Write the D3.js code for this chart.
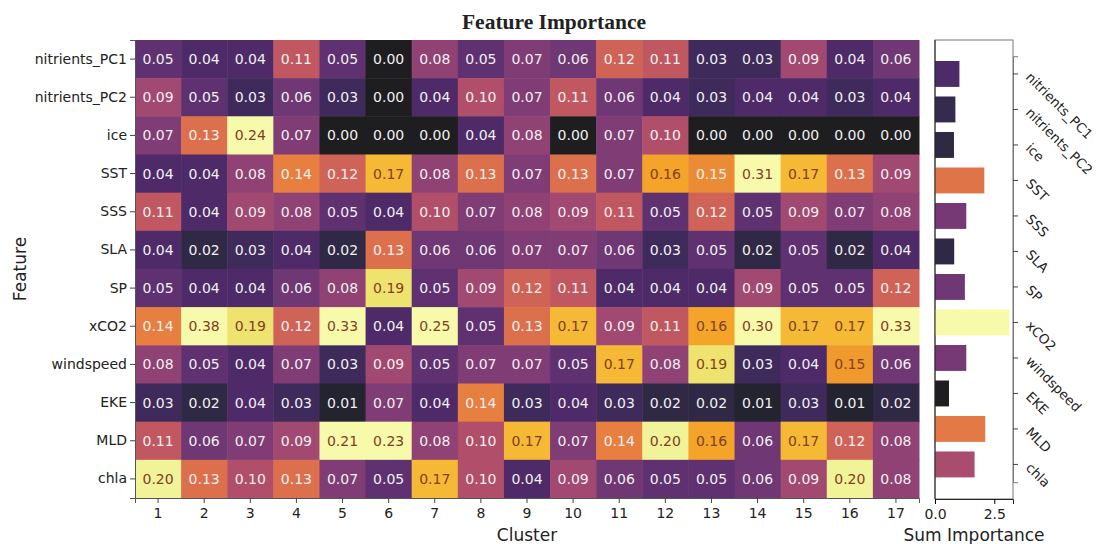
<!DOCTYPE html>
<html>
<head>
<meta charset="utf-8">
<script src="https://cdn.jsdelivr.net/npm/d3@7"></script>
<style>
  body { margin: 0; background: #fff; }
  svg { display: block; font-family: "DejaVu Sans", sans-serif; }
  svg text { font-family: "DejaVu Sans", sans-serif; }
</style>
</head>
<body>
<div id="chart"></div>
<script>
// ################## data ##################
var features = ['nitrients_PC1', 'nitrients_PC2', 'ice', 'SST', 'SSS', 'SLA', 'SP', 'xCO2', 'windspeed', 'EKE', 'MLD', 'chla'];
var clusters = ['1', '2', '3', '4', '5', '6', '7', '8', '9', '10', '11', '12', '13', '14', '15', '16', '17'];

var nitrientsPC1 = [0.05, 0.04, 0.04, 0.11, 0.05, 0.00, 0.08, 0.05, 0.07, 0.06, 0.12, 0.11, 0.03, 0.03, 0.09, 0.04, 0.06];
var nitrientsPC2 = [0.09, 0.05, 0.03, 0.06, 0.03, 0.00, 0.04, 0.10, 0.07, 0.11, 0.06, 0.04, 0.03, 0.04, 0.04, 0.03, 0.04];
var ice = [0.07, 0.13, 0.24, 0.07, 0.00, 0.00, 0.00, 0.04, 0.08, 0.00, 0.07, 0.10, 0.00, 0.00, 0.00, 0.00, 0.00];
var sst = [0.04, 0.04, 0.08, 0.14, 0.12, 0.17, 0.08, 0.13, 0.07, 0.13, 0.07, 0.16, 0.146, 0.31, 0.17, 0.13, 0.09];
var sss = [0.11, 0.04, 0.09, 0.08, 0.05, 0.04, 0.10, 0.07, 0.08, 0.09, 0.11, 0.05, 0.12, 0.05, 0.09, 0.07, 0.08];
var sla = [0.04, 0.02, 0.03, 0.04, 0.02, 0.13, 0.06, 0.06, 0.07, 0.07, 0.06, 0.03, 0.05, 0.02, 0.05, 0.02, 0.04];
var sp = [0.05, 0.04, 0.04, 0.06, 0.08, 0.19, 0.05, 0.09, 0.12, 0.11, 0.04, 0.04, 0.04, 0.09, 0.05, 0.05, 0.12];
var xco2 = [0.14, 0.38, 0.19, 0.12, 0.33, 0.04, 0.25, 0.05, 0.13, 0.17, 0.09, 0.11, 0.16, 0.30, 0.17, 0.17, 0.33];
var windspeed = [0.08, 0.05, 0.04, 0.07, 0.03, 0.09, 0.05, 0.07, 0.07, 0.05, 0.17, 0.08, 0.19, 0.03, 0.04, 0.154, 0.06];
var eke = [0.03, 0.02, 0.04, 0.03, 0.01, 0.07, 0.04, 0.14, 0.03, 0.04, 0.03, 0.02, 0.02, 0.01, 0.03, 0.01, 0.02];
var mld = [0.11, 0.06, 0.07, 0.09, 0.21, 0.23, 0.08, 0.10, 0.17, 0.07, 0.14, 0.20, 0.16, 0.06, 0.17, 0.12, 0.08];
var chla = [0.20, 0.13, 0.10, 0.13, 0.07, 0.05, 0.17, 0.10, 0.04, 0.09, 0.06, 0.05, 0.05, 0.06, 0.09, 0.20, 0.08];

// summed importance per feature (right panel)
var sumImportance = [1.03, 0.86, 0.80, 2.08, 1.32, 0.81, 1.26, 3.13, 1.32, 0.59, 2.12, 1.67];
var sumTicks = [0, 2.5];

function renderChart(params) {

  var attrs = {
    svgWidth: 1099,
    svgHeight: 544,
    heatLeft: 135,
    heatRight: 919,
    top: 40,
    bottom: 498,
    barLeft: 935,
    barRight: 1013,
    vmax: 0.205,
    container: 'body',
    rows: null
  };
  Object.keys(attrs).forEach(function (key) {
    if (params && params[key]) attrs[key] = params[key];
  });

  // the scanned figure looks washed out, dark tones greyer, so mimic that
  function wash(c) {
    var r = d3.rgb(c);
    var lr = 30 + r.r * 0.86, lg = 30 + r.g * 0.86, lb = 30 + r.b * 0.86;
    var grey = 0.3 * lr + 0.59 * lg + 0.11 * lb;
    var k = 0.4 * Math.pow(1 - grey / 255, 2);
    return d3.rgb(lr + (grey - lr) * k, lg + (grey - lg) * k, lb + (grey - lb) * k).formatHex();
  }

  // flatten rows into cells
  var cells = [];
  attrs.rows.forEach(function (row, i) {
    row.forEach(function (v, j) {
      cells.push({ feature: features[i], cluster: clusters[j], value: v });
    });
  });

  // ###################  scales ##################
  var scales = {};
  scales.x = d3.scaleBand().domain(clusters).range([attrs.heatLeft, attrs.heatRight]);
  scales.y = d3.scaleBand().domain(features).range([attrs.top, attrs.bottom]);
  scales.color = d3.scaleSequential(d3.interpolateInferno).domain([0, attrs.vmax]).clamp(true);

  scales.sumX = d3.scaleLinear().domain([0, 3.29]).range([attrs.barLeft, attrs.barRight]);
  scales.sumY = d3.scaleBand().domain(features).range([56.2, 482.2]).paddingInner(0.27).paddingOuter(0.135);
  scales.sumColor = d3.scaleSequential(d3.interpolateInferno).domain([0.59, 2.9]).clamp(true);

  var svg = d3.select(attrs.container).append('svg')
    .attr('width', attrs.svgWidth)
    .attr('height', attrs.svgHeight);

  // ################## title ##################
  svg.append('text')
    .attr('x', 554).attr('y', 29)
    .attr('text-anchor', 'middle')
    .style('font-family', '"Liberation Serif", "Times New Roman", serif')
    .style('font-weight', 'bold')
    .style('font-size', '21.5px')
    .attr('fill', '#222')
    .text('Feature Importance');

  // ################## heatmap ##################
  var heat = svg.append('g').attr('class', 'heat');
  heat.selectAll('rect').data(cells).enter().append('rect')
    .attr('x', function (d) { return scales.x(d.cluster); })
    .attr('y', function (d) { return scales.y(d.feature); })
    .attr('width', scales.x.bandwidth() + 0.5)
    .attr('height', scales.y.bandwidth() + 0.5)
    .attr('fill', function (d) { return wash(scales.color(d.value)); });

  heat.selectAll('text').data(cells).enter().append('text')
    .attr('x', function (d) { return scales.x(d.cluster) + scales.x.bandwidth() / 2; })
    .attr('y', function (d) { return scales.y(d.feature) + scales.y.bandwidth() / 2; })
    .attr('dy', '0.36em')
    .attr('text-anchor', 'middle')
    .style('font-size', '14px')
    .attr('fill', function (d) { return d.value / attrs.vmax >= 0.74 ? '#82401f' : '#f0f0f0'; })
    .text(function (d) { return d3.format('.2f')(d.value); });

  // #################### axes ###################
  var leftAxis = svg.append('g')
    .attr('transform', 'translate(' + attrs.heatLeft + ',0)')
    .call(d3.axisLeft(scales.y).tickSize(5).tickPadding(3));
  var bottomAxis = svg.append('g')
    .attr('transform', 'translate(0,' + attrs.bottom + ')')
    .call(d3.axisBottom(scales.x).tickSize(5).tickPadding(5));
  [leftAxis, bottomAxis].forEach(function (a) {
    a.attr('font-family', null);
    a.selectAll('text').style('font-size', '14px').attr('fill', '#222');
    a.selectAll('line').attr('stroke', '#444');
    a.select('.domain').attr('stroke', '#555');
  });

  svg.append('text')
    .attr('x', (attrs.heatLeft + attrs.heatRight) / 2).attr('y', 541)
    .attr('text-anchor', 'middle')
    .style('font-size', '17px').attr('fill', '#222')
    .text('Cluster');
  svg.append('text')
    .attr('transform', 'translate(26,' + (attrs.top + attrs.bottom) / 2 + ') rotate(-90)')
    .attr('text-anchor', 'middle')
    .style('font-size', '17px').attr('fill', '#222')
    .text('Feature');

  // ################## sum importance bars ##################
  var bars = svg.append('g').attr('class', 'bars');
  bars.append('rect')
    .attr('x', attrs.barLeft).attr('y', attrs.top)
    .attr('width', attrs.barRight - attrs.barLeft)
    .attr('height', attrs.bottom - attrs.top + 1)
    .attr('fill', 'none').attr('stroke', '#777');

  bars.selectAll('.bar').data(features).enter().append('rect')
    .attr('class', 'bar')
    .attr('x', scales.sumX(0))
    .attr('y', function (d) { return scales.sumY(d); })
    .attr('width', function (d, i) { return scales.sumX(sumImportance[i]) - scales.sumX(0); })
    .attr('height', scales.sumY.bandwidth())
    .attr('fill', function (d, i) { return wash(scales.sumColor(sumImportance[i])); });

  var sumBottom = svg.append('g')
    .attr('transform', 'translate(0,' + (attrs.bottom + 1) + ')')
    .call(d3.axisBottom(scales.sumX).tickValues(sumTicks).tickFormat(d3.format('.1f')).tickSize(5).tickPadding(5));
  sumBottom.attr('font-family', null);
  sumBottom.select('.domain').attr('stroke', '#222');
  sumBottom.selectAll('text').style('font-size', '14px').attr('fill', '#222');

  svg.append('line')
    .attr('x1', attrs.barLeft).attr('x2', attrs.barLeft)
    .attr('y1', attrs.top).attr('y2', attrs.bottom + 1)
    .attr('stroke', '#222');

  var sumRight = svg.append('g')
    .attr('transform', 'translate(' + attrs.barRight + ',0)')
    .call(d3.axisRight(scales.sumY).tickSize(5).tickPadding(0));
  sumRight.attr('font-family', null);
  sumRight.select('.domain').attr('stroke', '#777');
  sumRight.selectAll('line').attr('stroke', '#444');
  sumRight.selectAll('text')
    .attr('x', 0).attr('dy', '0.32em')
    .attr('transform', 'translate(15,1) rotate(45)')
    .style('font-size', '13.3px').attr('fill', '#222');

  svg.append('text')
    .attr('x', 974).attr('y', 541)
    .attr('text-anchor', 'middle')
    .style('font-size', '17px').attr('fill', '#222')
    .text('Sum Importance');

  return svg;
}

renderChart({ container: '#chart', rows: [nitrientsPC1, nitrientsPC2, ice, sst, sss, sla, sp, xco2, windspeed, eke, mld, chla] });
</script>
</body>
</html>
